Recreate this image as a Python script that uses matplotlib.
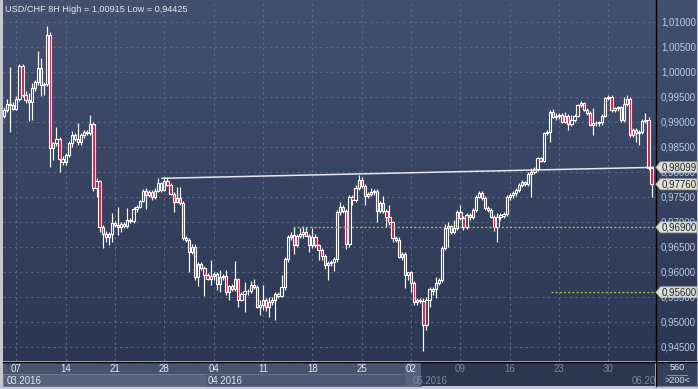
import numpy as np
import matplotlib
matplotlib.use('Agg')
import matplotlib.pyplot as plt
from matplotlib.colors import LinearSegmentedColormap
from matplotlib.patches import Rectangle, Polygon

plt.rcParams['font.family'] = ['Liberation Sans', 'DejaVu Sans']

# USD/CHF 8H candles, 04.03.2016 - 03.06.2016 (pre-week + weekly rows)
opens = [
    0.9912, 0.9925, 0.9937, 0.9935,
    0.9927, 0.9947, 1.0012, 0.9955, 0.9945, 0.9940, 0.9968, 0.9980, 1.0008, 0.9975, 0.9977, 1.0075, 0.9849, 0.9858, 0.9867, 0.9827,
    0.9821, 0.9835, 0.9859, 0.9875, 0.9867, 0.9860, 0.9875, 0.9880, 0.9878, 0.9896, 0.9768, 0.9783, 0.9690, 0.9677, 0.9671, 0.9676,
    0.9698, 0.9695, 0.9690, 0.9697, 0.9693, 0.9705, 0.9702, 0.9727, 0.9731, 0.9742, 0.9763, 0.9755, 0.9760, 0.9750, 0.9763, 0.9778,
    0.9765, 0.9783, 0.9775, 0.9757, 0.9741, 0.9748, 0.9738, 0.9668, 0.9664, 0.9641, 0.9651, 0.9591, 0.9617, 0.9608, 0.9594, 0.9586,
    0.9592, 0.9596, 0.9576, 0.9590, 0.9592, 0.9560, 0.9572, 0.9567, 0.9586, 0.9545, 0.9557, 0.9563, 0.9562, 0.9575, 0.9570, 0.9531,
    0.9535, 0.9545, 0.9530, 0.9541, 0.9545, 0.9557, 0.9552, 0.9570, 0.9626, 0.9671, 0.9674, 0.9655, 0.9672, 0.9676, 0.9681, 0.9673,
    0.9655, 0.9671, 0.9655, 0.9645, 0.9632, 0.9614, 0.9618, 0.9621, 0.9626, 0.9721, 0.9730, 0.9722, 0.9656, 0.9750, 0.9745, 0.9768,
    0.9785, 0.9772, 0.9753, 0.9757, 0.9760, 0.9763, 0.9723, 0.9738, 0.9723, 0.9710, 0.9700, 0.9668, 0.9665, 0.9631, 0.9636, 0.9595,
    0.9600, 0.9578, 0.9541, 0.9545, 0.9542, 0.9495, 0.9545, 0.9562, 0.9566, 0.9578, 0.9585, 0.9649, 0.9688, 0.9692, 0.9680, 0.9688,
    0.9721, 0.9709, 0.9691, 0.9715, 0.9710, 0.9725, 0.9751, 0.9758, 0.9748, 0.9728, 0.9725, 0.9711, 0.9691, 0.9711, 0.9713, 0.9716,
    0.9751, 0.9755, 0.9758, 0.9765, 0.9775, 0.9780, 0.9776, 0.9797, 0.9800, 0.9806, 0.9828, 0.9823, 0.9878, 0.9881, 0.9921, 0.9910,
    0.9913, 0.9915, 0.9901, 0.9913, 0.9897, 0.9905, 0.9913, 0.9935, 0.9938, 0.9925, 0.9918, 0.9895, 0.9899, 0.9898, 0.9900, 0.9913,
    0.9948, 0.9951, 0.9925, 0.9928, 0.9930, 0.9905, 0.9937, 0.9946, 0.9875, 0.9885, 0.9878, 0.9881, 0.9903, 0.9905, 0.9808,
]
highs = [
    0.9930, 0.9947, 1.0011, 0.9940,
    0.9952, 1.0016, 1.0016, 0.9962, 0.9958, 0.9978, 0.9985, 1.0043, 1.0028, 0.9980, 1.0092, 1.0080, 0.9860, 0.9891, 0.9870, 0.9832,
    0.9838, 0.9862, 0.9882, 0.9878, 0.9898, 0.9878, 0.9884, 0.9885, 0.9915, 0.9900, 0.9789, 0.9785, 0.9695, 0.9682, 0.9680, 0.9718,
    0.9702, 0.9731, 0.9700, 0.9700, 0.9729, 0.9708, 0.9730, 0.9735, 0.9745, 0.9767, 0.9768, 0.9764, 0.9764, 0.9768, 0.9789, 0.9781,
    0.9790, 0.9790, 0.9778, 0.9760, 0.9770, 0.9770, 0.9742, 0.9672, 0.9668, 0.9656, 0.9657, 0.9620, 0.9621, 0.9612, 0.9598, 0.9625,
    0.9600, 0.9600, 0.9604, 0.9596, 0.9605, 0.9575, 0.9576, 0.9623, 0.9588, 0.9560, 0.9581, 0.9567, 0.9582, 0.9587, 0.9575, 0.9545,
    0.9575, 0.9548, 0.9551, 0.9550, 0.9560, 0.9560, 0.9595, 0.9630, 0.9675, 0.9680, 0.9690, 0.9676, 0.9688, 0.9692, 0.9690, 0.9676,
    0.9688, 0.9676, 0.9657, 0.9648, 0.9636, 0.9622, 0.9625, 0.9630, 0.9725, 0.9740, 0.9735, 0.9726, 0.9755, 0.9755, 0.9775, 0.9795,
    0.9790, 0.9776, 0.9760, 0.9768, 0.9766, 0.9767, 0.9742, 0.9753, 0.9727, 0.9735, 0.9703, 0.9672, 0.9670, 0.9640, 0.9640, 0.9600,
    0.9603, 0.9582, 0.9548, 0.9549, 0.9548, 0.9550, 0.9570, 0.9570, 0.9591, 0.9588, 0.9652, 0.9697, 0.9700, 0.9695, 0.9705, 0.9725,
    0.9735, 0.9713, 0.9718, 0.9718, 0.9728, 0.9755, 0.9762, 0.9762, 0.9752, 0.9733, 0.9728, 0.9714, 0.9718, 0.9718, 0.9720, 0.9755,
    0.9758, 0.9762, 0.9768, 0.9778, 0.9785, 0.9782, 0.9800, 0.9808, 0.9810, 0.9830, 0.9830, 0.9880, 0.9885, 0.9925, 0.9926, 0.9918,
    0.9918, 0.9918, 0.9921, 0.9916, 0.9915, 0.9916, 0.9937, 0.9942, 0.9940, 0.9928, 0.9922, 0.9928, 0.9903, 0.9902, 0.9916, 0.9950,
    0.9955, 0.9955, 0.9931, 0.9933, 0.9933, 0.9951, 0.9955, 0.9950, 0.9888, 0.9888, 0.9885, 0.9906, 0.9918, 0.9910, 0.9810,
]
lows = [
    0.9909, 0.9920, 0.9880, 0.9924,
    0.9925, 0.9942, 0.9950, 0.9938, 0.9902, 0.9905, 0.9962, 0.9975, 0.9952, 0.9955, 0.9972, 0.9810, 0.9825, 0.9853, 0.9801, 0.9815,
    0.9815, 0.9830, 0.9850, 0.9862, 0.9855, 0.9855, 0.9868, 0.9874, 0.9874, 0.9762, 0.9750, 0.9680, 0.9649, 0.9660, 0.9655, 0.9660,
    0.9690, 0.9675, 0.9680, 0.9688, 0.9688, 0.9698, 0.9698, 0.9720, 0.9728, 0.9740, 0.9727, 0.9750, 0.9745, 0.9746, 0.9760, 0.9760,
    0.9762, 0.9772, 0.9755, 0.9721, 0.9738, 0.9735, 0.9665, 0.9660, 0.9600, 0.9636, 0.9585, 0.9572, 0.9604, 0.9553, 0.9584, 0.9575,
    0.9585, 0.9565, 0.9561, 0.9584, 0.9555, 0.9545, 0.9562, 0.9562, 0.9531, 0.9542, 0.9521, 0.9555, 0.9558, 0.9566, 0.9528, 0.9515,
    0.9525, 0.9522, 0.9511, 0.9535, 0.9505, 0.9548, 0.9550, 0.9565, 0.9620, 0.9664, 0.9637, 0.9650, 0.9668, 0.9668, 0.9672, 0.9641,
    0.9648, 0.9650, 0.9625, 0.9625, 0.9607, 0.9585, 0.9612, 0.9603, 0.9620, 0.9715, 0.9718, 0.9646, 0.9650, 0.9735, 0.9740, 0.9765,
    0.9768, 0.9735, 0.9748, 0.9752, 0.9755, 0.9701, 0.9718, 0.9718, 0.9691, 0.9695, 0.9660, 0.9660, 0.9628, 0.9625, 0.9568, 0.9585,
    0.9561, 0.9535, 0.9535, 0.9538, 0.9443, 0.9485, 0.9531, 0.9555, 0.9549, 0.9575, 0.9580, 0.9645, 0.9650, 0.9676, 0.9676, 0.9684,
    0.9705, 0.9685, 0.9686, 0.9705, 0.9706, 0.9720, 0.9748, 0.9744, 0.9724, 0.9720, 0.9708, 0.9682, 0.9661, 0.9705, 0.9708, 0.9712,
    0.9745, 0.9748, 0.9752, 0.9760, 0.9770, 0.9772, 0.9772, 0.9751, 0.9796, 0.9803, 0.9820, 0.9820, 0.9874, 0.9861, 0.9908, 0.9905,
    0.9906, 0.9899, 0.9898, 0.9885, 0.9893, 0.9900, 0.9910, 0.9930, 0.9922, 0.9915, 0.9893, 0.9875, 0.9892, 0.9893, 0.9895, 0.9910,
    0.9944, 0.9920, 0.9920, 0.9922, 0.9900, 0.9900, 0.9932, 0.9870, 0.9870, 0.9861, 0.9855, 0.9876, 0.9898, 0.9805, 0.9751,
]
closes = [
    0.9925, 0.9937, 0.9935, 0.9927,
    0.9947, 1.0012, 0.9955, 0.9945, 0.9940, 0.9968, 0.9980, 1.0008, 0.9975, 0.9977, 1.0075, 0.9849, 0.9858, 0.9867, 0.9827, 0.9821,
    0.9835, 0.9859, 0.9875, 0.9867, 0.9860, 0.9875, 0.9880, 0.9878, 0.9896, 0.9768, 0.9783, 0.9690, 0.9677, 0.9671, 0.9676, 0.9698,
    0.9695, 0.9690, 0.9697, 0.9693, 0.9705, 0.9702, 0.9727, 0.9731, 0.9742, 0.9763, 0.9755, 0.9760, 0.9750, 0.9763, 0.9778, 0.9765,
    0.9783, 0.9775, 0.9757, 0.9741, 0.9748, 0.9738, 0.9668, 0.9664, 0.9641, 0.9651, 0.9591, 0.9617, 0.9608, 0.9594, 0.9586, 0.9592,
    0.9596, 0.9576, 0.9590, 0.9592, 0.9560, 0.9572, 0.9567, 0.9586, 0.9545, 0.9557, 0.9563, 0.9562, 0.9575, 0.9570, 0.9531, 0.9535,
    0.9545, 0.9530, 0.9541, 0.9545, 0.9557, 0.9552, 0.9570, 0.9626, 0.9671, 0.9674, 0.9655, 0.9672, 0.9676, 0.9681, 0.9673, 0.9655,
    0.9671, 0.9655, 0.9645, 0.9632, 0.9614, 0.9618, 0.9621, 0.9626, 0.9721, 0.9730, 0.9722, 0.9656, 0.9750, 0.9745, 0.9768, 0.9785,
    0.9772, 0.9753, 0.9757, 0.9760, 0.9763, 0.9723, 0.9738, 0.9723, 0.9710, 0.9700, 0.9668, 0.9665, 0.9631, 0.9636, 0.9595, 0.9600,
    0.9578, 0.9541, 0.9545, 0.9542, 0.9495, 0.9545, 0.9567, 0.9566, 0.9578, 0.9585, 0.9649, 0.9688, 0.9692, 0.9680, 0.9688, 0.9721,
    0.9709, 0.9691, 0.9715, 0.9710, 0.9725, 0.9751, 0.9758, 0.9748, 0.9728, 0.9725, 0.9711, 0.9691, 0.9711, 0.9715, 0.9716, 0.9751,
    0.9755, 0.9758, 0.9765, 0.9775, 0.9780, 0.9776, 0.9797, 0.9800, 0.9806, 0.9828, 0.9823, 0.9878, 0.9881, 0.9921, 0.9910, 0.9913,
    0.9915, 0.9901, 0.9913, 0.9897, 0.9905, 0.9913, 0.9935, 0.9938, 0.9925, 0.9918, 0.9895, 0.9899, 0.9898, 0.9900, 0.9913, 0.9948,
    0.9951, 0.9925, 0.9928, 0.9930, 0.9905, 0.9937, 0.9946, 0.9875, 0.9885, 0.9878, 0.9881, 0.9903, 0.9905, 0.9808, 0.9776,
]

week_days = ['07', '14', '21', '28', '04', '11', '18', '25', '02', '09', '16', '23', '30']
week_start = [4, 20, 36, 52, 68, 84, 100, 116, 132, 148, 164, 180, 196]  # candle index of Monday
months = ['03.2016', '04.2016', '05.2016', '06.20']

price_ticks = [1.010, 1.005, 1.000, 0.995, 0.990, 0.985, 0.980, 0.975, 0.970, 0.965, 0.960, 0.955, 0.950, 0.945]
trend_x = [51.3, 210.5]
trend_y = [0.9788, 0.98099]
level_1 = 0.9690   # green dotted level from candle ~94
level_2 = 0.9560   # green dotted level from candle ~177
marks = [0.98099, 0.97760, 0.96900, 0.95600]

W, H = 698, 389
fig = plt.figure(figsize=(W / 100, H / 100), dpi=100)
fig.patch.set_facecolor('#c3c8d2')

# background / panels (pixel coords)
deco = fig.add_axes([0, 0, 1, 1])
deco.set_zorder(0)
grad = np.linspace(0, 1, 256).reshape(-1, 1)
bg = LinearSegmentedColormap.from_list('bg', ['#435070', '#2b3652'])
deco.imshow(grad, cmap=bg, extent=(3, 697, 361, 0), aspect='auto', interpolation='bilinear')
deco.add_patch(Rectangle((3, 362), 418, 12, fc='#47536f', ec='none'))
deco.add_patch(Rectangle((3, 374), 202, 12, fc='#56627e', ec='#6a7590', lw=0.6))
deco.add_patch(Rectangle((205, 374), 216, 12, fc='#4b5774', ec='#5f6a86', lw=0.6))
deco.add_patch(Rectangle((421, 362), 234, 24, fc='#2c3651', ec='none'))
deco.add_patch(Rectangle((405, 362), 16, 24, fc='#56627e', ec='none'))
deco.add_patch(Rectangle((656, 362), 41, 24, fc='#34405b', ec='#7c869a', lw=0.6))
deco.plot([655.5, 655.5], [0, 386], color='black', lw=1.0)
deco.plot([3, 697], [361.5, 361.5], color='black', lw=1.0)
deco.set_xlim(0, W)
deco.set_ylim(H, 0)
deco.axis('off')

# main chart
ax = fig.add_axes([3 / W, 28 / H, 652 / W, 360 / H])
ax.set_zorder(1)
ax.patch.set_alpha(0)
ax.set_xlim(-0.324, 211.1)
ax.set_ylim(0.94226, 1.01426)
for s in ax.spines.values():
    s.set_visible(False)
ax.set_xticks([])
ax.set_yticks([])

grid_c = '#5a6785'
for p in price_ticks:
    ax.axhline(p, color=grid_c, lw=0.8, ls=(0, (2, 3)), zorder=1)
for w in week_start:
    ax.axvline(w, color=grid_c, lw=0.8, ls=(0, (2, 3)), zorder=1)

o = np.array(opens)
h = np.array(highs)
l = np.array(lows)
c = np.array(closes)
idx = np.arange(len(c))
up = c >= o
ax.vlines(idx, l, h, color='white', lw=0.85, zorder=3)
ax.bar(idx, np.maximum(np.abs(c - o), 0.00015), bottom=np.minimum(o, c), width=0.72,
       color=np.where(up, '#3a4663', '#e5163d'), edgecolor='white', linewidth=0.8, zorder=4)

ax.plot(trend_x, trend_y, color='#e8e8ea', lw=1.1, zorder=5)
ax.plot([93.7, 211.1], [level_1, level_1], color='#9bc23c', lw=1.0, ls=(0, (1.5, 1.5)), zorder=5)
ax.plot([177.4, 211.1], [level_2, level_2], color='#9bc23c', lw=1.0, ls=(0, (1.5, 1.5)), zorder=5)

# overlay for labels
top = fig.add_axes([0, 0, 1, 1])
top.set_zorder(2)
top.patch.set_alpha(0)
top.set_xlim(0, W)
top.set_ylim(H, 0)
top.axis('off')


def ypix(p):
    return H - ax.transData.transform((0, p))[1]


def xpix(i):
    return ax.transData.transform((i, 0))[0]


top.text(5, 9, 'USD/CHF 8H High = 1,00915 Low = 0,94425', fontsize=6.6, color='#e3e8f0',
         va='center', ha='left')

for p in price_ticks:
    top.text(661, ypix(p), f'{p:.5f}'.replace('.', ','), fontsize=7, color='#b9cbe6',
             va='center', ha='left')

for p in marks:
    y = ypix(p)
    top.add_patch(Polygon([(655.8, y), (660.5, y - 5.5), (697, y - 5.5), (697, y + 5.5), (660.5, y + 5.5)],
                          closed=True, fc='#e4e3cf', ec='#a4a8ae', lw=0.6))
    top.text(662, y, f'{p:.5f}'.replace('.', ','), fontsize=7, color='#1d2634', va='center', ha='left')

for d, w in zip(week_days, week_start):
    x = xpix(w)
    col = '#e4eaf2' if x < 421 else '#7d889d'
    top.text(x, 368.5, d, fontsize=7, color=col, va='center', ha='center')

for m, x, col in zip(months, [7, 208, 413, 632], ['#e4eaf2', '#e4eaf2', '#7d889d', '#7d889d']):
    top.text(x, 380.5, m, fontsize=7, color=col, va='center', ha='left', clip_on=True)

top.text(677, 368, '560', fontsize=6.5, color='#e4eaf2', va='center', ha='center')
top.plot([667, 687], [374.5, 374.5], color='#9aa3b5', lw=0.6)
top.text(677, 380.5, '>200<', fontsize=6.5, color='#e4eaf2', va='center', ha='center')

fig.savefig('out.png', dpi=100, facecolor=fig.get_facecolor())
